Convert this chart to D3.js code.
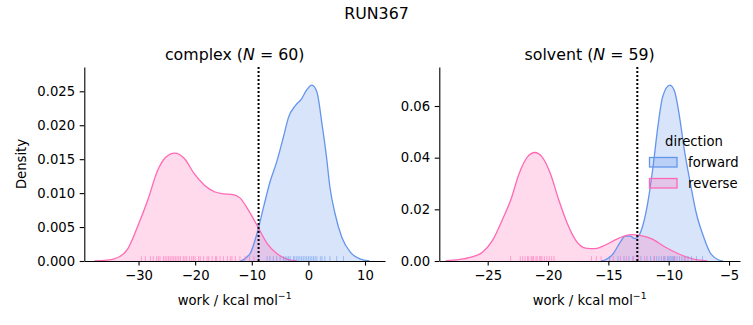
<!DOCTYPE html>
<html>
<head>
<meta charset="utf-8">
<script src="https://cdn.jsdelivr.net/npm/d3@7"></script>
<style>
  body { margin: 0; background: #fff; }
  text { font-family: "DejaVu Sans", sans-serif; fill: #000; }
</style>
</head>
<body>
<svg id="fig" width="753" height="325"></svg>
<script>
// --- complex leg: KDE curves (work, density) ---
const complexForwardWork    = [-12.0, -10.3, -9.1, -7.9, -6.8, -5.6, -4.4, -3.5, -2.3, -1.2, -0.3, 0.6, 1.5, 2.4, 3.2, 3.8, 4.7, 5.9, 7.4, 9.1, 10.8];
const complexForwardDensity = [0, 0.0011, 0.0040, 0.0080, 0.0116, 0.0146, 0.0183, 0.0212, 0.0229, 0.0239, 0.0252, 0.0259, 0.0249, 0.0202, 0.0153, 0.0109, 0.0070, 0.0035, 0.0013, 0.0003, 0];
const complexReverseWork    = [-37.8, -36.0, -34.3, -31.9, -30.2, -28.4, -26.6, -25.2, -23.6, -21.9, -20.2, -18.4, -16.6, -14.9, -13.5, -12.1, -10.6, -8.9, -7.3, -5.6, -3.5, -2.0];
const complexReverseDensity = [0, 0.0001, 0.0003, 0.0018, 0.0050, 0.0089, 0.0134, 0.0153, 0.0159, 0.0151, 0.0129, 0.0112, 0.0102, 0.0099, 0.0098, 0.0093, 0.0075, 0.0050, 0.0026, 0.0011, 0.0002, 0];

// --- solvent leg: KDE curves ---
const solventForwardWork    = [-15.6, -15.3, -14.6, -14.0, -13.6, -13.2, -12.8, -12.5, -12.1, -11.7, -11.3, -10.9, -10.5, -9.9, -9.5, -9.1, -8.7, -8.2, -7.7, -7.1, -6.6, -5.9, -5.5];
const solventForwardDensity = [0, 0.0003, 0.0028, 0.0074, 0.0096, 0.0096, 0.0087, 0.0096, 0.0145, 0.0235, 0.0364, 0.0519, 0.0636, 0.0681, 0.0655, 0.0558, 0.0429, 0.0300, 0.0183, 0.0093, 0.0035, 0.0005, 0];
const solventReverseWork    = [-28.5, -27.9, -26.3, -25.4, -24.6, -23.8, -23.1, -22.4, -21.7, -21.1, -20.5, -19.8, -19.1, -18.4, -17.7, -16.9, -16.1, -15.3, -14.2, -13.1, -12.4, -11.4, -10.3, -9.2, -8.1, -6.8];
const solventReverseDensity = [0, 0.0003, 0.0016, 0.0035, 0.0080, 0.0158, 0.0235, 0.0338, 0.0403, 0.0420, 0.0403, 0.0338, 0.0235, 0.0145, 0.0080, 0.0050, 0.0048, 0.0061, 0.0087, 0.0102, 0.0099, 0.0086, 0.0054, 0.0028, 0.0009, 0];

// --- individual work values (rug) ---
const complexForwardRug = [-8.8, -7.3, -6.8, -6.2, -5.6, -5.0, -4.4, -4.1, -3.8, -3.5, -3.2, -2.65, -2.4, -2.05, -1.8, -1.5, -1.2, -0.9, -0.6, -0.3, 0.0, 0.3, 0.6, 0.9, 1.2, 1.5, 2.1, 2.4, 2.9, 3.8, 5.0, 6.2];
const complexReverseRug = [-29.5, -28.8, -27.9, -27.4, -26.8, -26.5, -26.2, -25.6, -25.3, -25.0, -24.7, -24.4, -24.1, -23.8, -23.5, -23.2, -22.9, -22.6, -22.1, -21.8, -21.5, -21.0, -20.6, -20.3, -20.0, -19.4, -19.1, -18.5, -17.9, -17.6, -17.0, -16.4, -16.2, -15.6, -15.0, -14.3, -13.8, -13.5, -12.9, -12.1, -11.2, -10.4, -9.6];
const solventForwardRug = [-14.9, -14.2, -13.7, -13.3, -12.9, -12.3, -11.8, -11.5, -11.2, -11.0, -10.8, -10.6, -10.4, -10.3, -10.1, -10.0, -9.9, -9.8, -9.7, -9.6, -9.5, -9.3, -9.1, -8.9, -8.7, -8.4, -8.1, -7.7, -7.2];
const solventReverseRug = [-23.1, -22.3, -22.1, -21.9, -21.7, -21.6, -21.4, -21.3, -21.2, -21.0, -20.9, -20.7, -20.6, -20.5, -20.3, -20.1, -19.9, -19.7, -19.5, -16.4, -16.0, -15.6, -14.6, -14.0, -13.5, -13.0, -12.5, -12.0, -11.2, -10.4, -9.5, -8.6];

// free energy estimates (dotted lines)
const complexEstimate = -8.8;
const solventEstimate = -12.6;

// ticks
const complexTicksX = [-30, -20, -10, 0, 10];
const complexTicksY = [0, 0.005, 0.010, 0.015, 0.020, 0.025];
const solventTicksX = [-25, -20, -15, -10, -5];
const solventTicksY = [0, 0.02, 0.04, 0.06];

const directions = ["forward", "reverse"];
const colors = { forward: "#6495ED", reverse: "#FF69B4" };

const svg = d3.select("#fig");
const fontSize = 13.2;
const plotTop = 67, plotBottom = 261;

svg.append("text").attr("x", 376.5).attr("y", 19).attr("text-anchor", "middle")
  .style("font-size", "15.8px").text("RUN367");

function zip(xs, ys) { return xs.map((x, i) => [x, ys[i]]); }

function drawPanel(p) {
  const x = d3.scaleLinear().domain(p.xDomain).range([p.left, p.right]);
  const y = d3.scaleLinear().domain(p.yDomain).range([plotBottom, plotTop]);
  const g = svg.append("g");

  const area = d3.area().curve(d3.curveMonotoneX)
    .x(d => x(d[0])).y0(y(0)).y1(d => y(d[1]));
  const line = d3.line().curve(d3.curveMonotoneX)
    .x(d => x(d[0])).y(d => y(d[1]));

  directions.forEach(dir => {
    g.append("path").datum(p.curves[dir]).attr("d", area)
      .attr("fill", colors[dir]).attr("fill-opacity", 0.25);
  });
  directions.forEach(dir => {
    g.append("path").datum(p.curves[dir]).attr("d", line)
      .attr("fill", "none").attr("stroke", colors[dir]).attr("stroke-width", 1.3);
  });

  // rug
  const rugH = (plotBottom - plotTop) * 0.025;
  directions.forEach(dir => {
    g.selectAll(null).data(p.rugs[dir]).enter().append("line")
      .attr("x1", d => x(d)).attr("x2", d => x(d))
      .attr("y1", plotBottom).attr("y2", plotBottom - rugH)
      .attr("stroke", colors[dir]).attr("stroke-width", 1).attr("stroke-opacity", 0.55);
  });

  // estimate
  g.append("line").attr("x1", x(p.estimate)).attr("x2", x(p.estimate))
    .attr("y1", plotTop).attr("y2", plotBottom)
    .attr("stroke", "#000").attr("stroke-width", 2).attr("stroke-dasharray", "2,2");

  const xAxis = d3.axisBottom(x).tickValues(p.ticksX).tickSize(4.6).tickPadding(4.6).tickSizeOuter(0)
    .tickFormat(d3.format("d"));
  const yAxis = d3.axisLeft(y).tickValues(p.ticksY).tickSize(4.6).tickPadding(4.6).tickSizeOuter(0)
    .tickFormat(d3.format(p.yFormat));

  const gx = g.append("g").attr("transform", "translate(0," + plotBottom + ")").call(xAxis);
  const gy = g.append("g").attr("transform", "translate(" + p.left + ",0)").call(yAxis);
  [gx, gy].forEach(a => {
    a.select(".domain").attr("stroke-width", 1.1);
    a.selectAll(".tick line").attr("stroke-width", 1.1);
    a.selectAll("text").style("font-size", fontSize + "px").attr("fill", "#000")
      .style("font-family", '"DejaVu Sans", sans-serif');
  });

  // title
  const mid = (p.left + p.right) / 2;
  const t = g.append("text").attr("x", mid).attr("y", 59.5).attr("text-anchor", "middle")
    .style("font-size", "15.8px");
  t.append("tspan").text(p.name + " (");
  t.append("tspan").style("font-style", "italic").text("N");
  t.append("tspan").text(" = " + p.n + ")");

  // x label
  const xl = g.append("text").attr("x", mid).attr("y", 304.5).attr("text-anchor", "middle")
    .style("font-size", fontSize + "px");
  xl.append("tspan").text("work / kcal mol");
  xl.append("tspan").attr("dy", -5.5).style("font-size", "9.3px").text("\u22121");

  return g;
}

drawPanel({
  name: "complex", n: 60, left: 84.3, right: 385,
  xDomain: [-39.58, 13.53], yDomain: [0, 0.02858],
  ticksX: complexTicksX, ticksY: complexTicksY, yFormat: ".3f",
  curves: { forward: zip(complexForwardWork, complexForwardDensity), reverse: zip(complexReverseWork, complexReverseDensity) },
  rugs: { forward: complexForwardRug, reverse: complexReverseRug },
  estimate: complexEstimate
});

drawPanel({
  name: "solvent", n: 59, left: 439.3, right: 740,
  xDomain: [-29.01, -4.09], yDomain: [0, 0.0751],
  ticksX: solventTicksX, ticksY: solventTicksY, yFormat: ".2f",
  curves: { forward: zip(solventForwardWork, solventForwardDensity), reverse: zip(solventReverseWork, solventReverseDensity) },
  rugs: { forward: solventForwardRug, reverse: solventReverseRug },
  estimate: solventEstimate
});

// y label
svg.append("text").attr("transform", "translate(25.5,164) rotate(-90)")
  .attr("text-anchor", "middle").style("font-size", fontSize + "px").text("Density");

// legend
const legend = svg.append("g");
legend.append("text").attr("x", 694).attr("y", 145.5).attr("text-anchor", "middle")
  .style("font-size", fontSize + "px").text("direction");
directions.forEach((dir, i) => {
  const yy = 157.5 + i * 21;
  legend.append("rect").attr("x", 649.5).attr("y", yy).attr("width", 27.5).attr("height", 9.5)
    .attr("fill", colors[dir]).attr("fill-opacity", 0.25)
    .attr("stroke", colors[dir]).attr("stroke-width", 1.3);
  legend.append("text").attr("x", 688).attr("y", yy + 9.5)
    .style("font-size", fontSize + "px").text(dir);
});
</script>
</body>
</html>
